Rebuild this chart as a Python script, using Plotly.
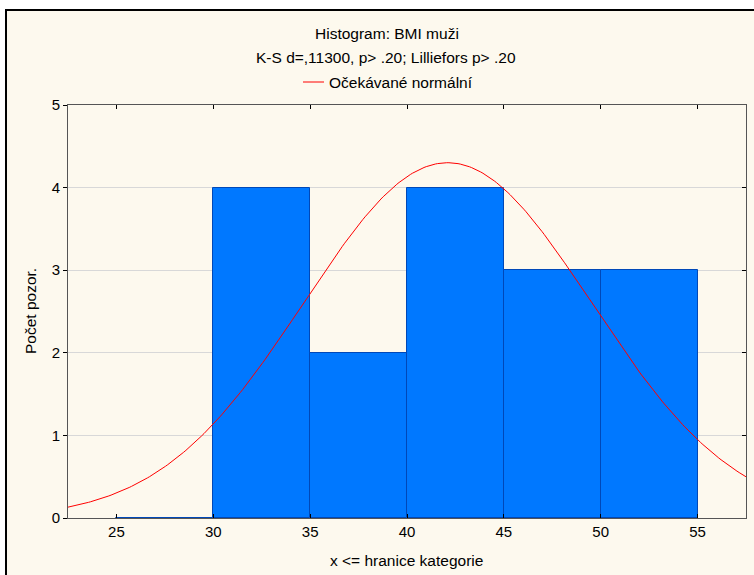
import numpy as np
import plotly.graph_objects as go

# Data
bin_left = [25, 30, 35, 40, 45, 50]
bin_right = [30, 35, 40, 45, 50, 55]
counts = [0, 4, 2, 4, 3, 3]
x_ticks = [25, 30, 35, 40, 45, 50, 55]
y_ticks = [0, 1, 2, 3, 4, 5]
# fitted normal
n_obs = 16
bin_width = 5
norm_mean = 42.1
norm_sd = 7.42

centers = [(a + b) / 2 for a, b in zip(bin_left, bin_right)]
widths = [b - a for a, b in zip(bin_left, bin_right)]

xc = np.linspace(22.5, 57.5, 300)
yc = n_obs * bin_width * np.exp(-0.5 * ((xc - norm_mean) / norm_sd) ** 2) / (norm_sd * np.sqrt(2 * np.pi))

W, H = 754, 575
L, R, T, B = 68, 746, 105, 518

def px(x):
    return (x - L) / (R - L)

def py(y):
    return (B - y) / (B - T)

fig = go.Figure()
fig.add_trace(go.Bar(x=centers, y=counts, width=widths,
                     marker=dict(color="#0078FF", line=dict(color="#0048B8", width=1)),
                     showlegend=False))
fig.add_trace(go.Scatter(x=xc, y=yc, mode="lines", line=dict(color="#FF0000", width=1),
                         yaxis="y2", showlegend=False))

font = "Liberation Sans, Arial, sans-serif"
axcol = "#555555"
fs_tick = 15
fs_text = 15.5

fig.update_layout(
    width=W, height=H,
    margin=dict(l=L, r=W - R, t=T, b=H - B),
    paper_bgcolor="white", plot_bgcolor="white",
    font=dict(family=font, size=fs_text, color="black"),
    bargap=0,
    xaxis=dict(range=[22.5, 57.5], tickvals=x_ticks, ticks="inside", ticklen=4,
               tickcolor="black", showline=True, linecolor=axcol, linewidth=1,
               mirror="ticks", showgrid=False, zeroline=False,
               tickfont=dict(size=fs_tick)),
    yaxis=dict(range=[0, 5], tickvals=y_ticks, ticks="outside", ticklen=4,
               tickcolor="black", showline=True, linecolor=axcol, linewidth=1,
               showgrid=True, gridcolor="#D8D8D8", zeroline=False,
               tickfont=dict(size=fs_tick)),
    yaxis2=dict(range=[0, 5], overlaying="y", side="right", tickvals=y_ticks,
                ticks="inside", ticklen=4, tickcolor="black", showticklabels=False,
                showline=True, linecolor=axcol, linewidth=1, showgrid=False,
                zeroline=False),
    shapes=[
        dict(type="rect", xref="paper", yref="paper", layer="below",
             x0=px(6), x1=px(770), y0=py(590), y1=py(10),
             fillcolor="#FDF9EE", line=dict(color="black", width=2)),
        dict(type="line", xref="paper", yref="paper",
             x0=px(303), x1=px(324), y0=py(82), y1=py(82),
             line=dict(color="#FF0000", width=1)),
    ],
    annotations=[
        dict(text="Histogram: BMI muži", xref="paper", yref="paper",
             x=px(387), y=py(34), showarrow=False, xanchor="center", yanchor="middle",
             font=dict(size=fs_text)),
        dict(text="K-S d=,11300, p> .20; Lilliefors p> .20", xref="paper", yref="paper",
             x=px(386), y=py(58), showarrow=False, xanchor="center", yanchor="middle",
             font=dict(size=fs_text)),
        dict(text="Očekávané normální", xref="paper", yref="paper",
             x=px(327), y=py(82), showarrow=False, xanchor="left", yanchor="middle",
             font=dict(size=fs_text)),
        dict(text="Počet pozor.", xref="paper", yref="paper",
             x=px(30), y=py(311), showarrow=False, textangle=-90,
             xanchor="center", yanchor="middle", font=dict(size=fs_text)),
        dict(text="x <= hranice kategorie", xref="paper", yref="paper",
             x=px(406), y=py(560), showarrow=False,
             xanchor="center", yanchor="middle", font=dict(size=fs_text)),
    ],
)

fig.write_html("out.html")
